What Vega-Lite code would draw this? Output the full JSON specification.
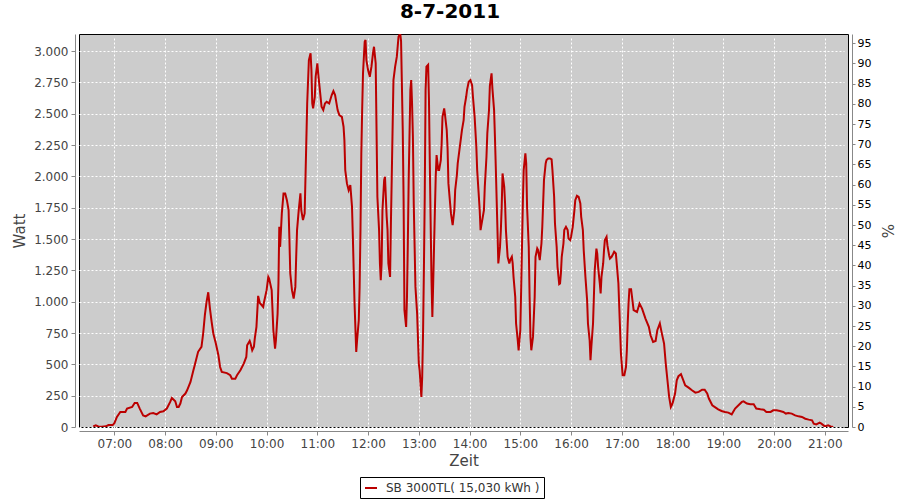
{
  "$schema": "https://vega.github.io/schema/vega-lite/v6.json",
  "width": 769,
  "height": 393,
  "autosize": {"type": "none"},
  "padding": {"left": 79, "top": 34, "right": 52, "bottom": 73},
  "background": "white",
  "title": {"text": "8-7-2011", "font": "DejaVu Sans", "fontSize": 20, "fontWeight": "bold", "color": "black", "anchor": "middle", "dx": -13.5, "offset": 12},
  "config": {
    "view": {"fill": "#CCCCCC", "stroke": "black", "strokeWidth": 1},
    "axis": {
      "offset": 4,
      "domainColor": "#888888",
      "tickColor": "#888888",
      "tickSize": 4,
      "labelFont": "DejaVu Sans",
      "labelFontSize": 12,
      "labelColor": "#444444",
      "titleFont": "DejaVu Sans",
      "titleFontSize": 15,
      "titleFontWeight": "normal",
      "titleColor": "#444444",
      "gridColor": "white",
      "gridDash": [2, 2],
      "gridOpacity": 1,
      "gridWidth": 1
    }
  },
  "layer": [
    {
      "data": {
        "values": [
          {"t":"2011-07-08T06:35","w":5},{"t":"2011-07-08T06:38","w":14},{"t":"2011-07-08T06:41","w":5},{"t":"2011-07-08T06:45","w":3},{"t":"2011-07-08T06:50","w":5},{"t":"2011-07-08T06:53","w":15},{"t":"2011-07-08T06:58","w":15},
          {"t":"2011-07-08T07:00","w":30},{"t":"2011-07-08T07:03","w":80},{"t":"2011-07-08T07:07","w":120},{"t":"2011-07-08T07:13","w":120},{"t":"2011-07-08T07:15","w":147},{"t":"2011-07-08T07:21","w":160},{"t":"2011-07-08T07:24","w":192},{"t":"2011-07-08T07:27","w":192},{"t":"2011-07-08T07:30","w":147},{"t":"2011-07-08T07:34","w":93},{"t":"2011-07-08T07:37","w":85},{"t":"2011-07-08T07:42","w":107},{"t":"2011-07-08T07:46","w":112},{"t":"2011-07-08T07:50","w":101},{"t":"2011-07-08T07:54","w":120},{"t":"2011-07-08T07:58","w":125},
          {"t":"2011-07-08T08:02","w":147},{"t":"2011-07-08T08:06","w":200},{"t":"2011-07-08T08:08","w":232},{"t":"2011-07-08T08:12","w":205},{"t":"2011-07-08T08:14","w":160},{"t":"2011-07-08T08:16","w":160},{"t":"2011-07-08T08:18","w":187},{"t":"2011-07-08T08:20","w":240},{"t":"2011-07-08T08:24","w":267},{"t":"2011-07-08T08:26","w":293},{"t":"2011-07-08T08:30","w":360},{"t":"2011-07-08T08:33","w":440},{"t":"2011-07-08T08:35","w":493},{"t":"2011-07-08T08:39","w":600},{"t":"2011-07-08T08:43","w":640},{"t":"2011-07-08T08:45","w":746},{"t":"2011-07-08T08:47","w":892},{"t":"2011-07-08T08:49","w":998},{"t":"2011-07-08T08:51","w":1075},{"t":"2011-07-08T08:53","w":945},{"t":"2011-07-08T08:55","w":838},{"t":"2011-07-08T08:57","w":746},
          {"t":"2011-07-08T09:00","w":666},{"t":"2011-07-08T09:03","w":573},{"t":"2011-07-08T09:05","w":479},{"t":"2011-07-08T09:07","w":440},{"t":"2011-07-08T09:13","w":430},{"t":"2011-07-08T09:17","w":413},{"t":"2011-07-08T09:19","w":386},{"t":"2011-07-08T09:23","w":386},{"t":"2011-07-08T09:25","w":413},{"t":"2011-07-08T09:29","w":453},{"t":"2011-07-08T09:33","w":506},{"t":"2011-07-08T09:36","w":559},{"t":"2011-07-08T09:37","w":652},{"t":"2011-07-08T09:40","w":687},{"t":"2011-07-08T09:41","w":666},{"t":"2011-07-08T09:43","w":612},{"t":"2011-07-08T09:45","w":640},{"t":"2011-07-08T09:46","w":706},{"t":"2011-07-08T09:48","w":799},{"t":"2011-07-08T09:50","w":1046},{"t":"2011-07-08T09:52","w":990},{"t":"2011-07-08T09:56","w":958},{"t":"2011-07-08T09:57","w":998},
          {"t":"2011-07-08T10:00","w":1092},{"t":"2011-07-08T10:02","w":1198},{"t":"2011-07-08T10:03","w":1185},{"t":"2011-07-08T10:06","w":1092},{"t":"2011-07-08T10:08","w":772},{"t":"2011-07-08T10:10","w":626},{"t":"2011-07-08T10:11","w":690},{"t":"2011-07-08T10:13","w":905},{"t":"2011-07-08T10:14","w":1145},{"t":"2011-07-08T10:15","w":1597},{"t":"2011-07-08T10:16","w":1437},{"t":"2011-07-08T10:18","w":1704},{"t":"2011-07-08T10:20","w":1864},{"t":"2011-07-08T10:22","w":1864},{"t":"2011-07-08T10:24","w":1810},{"t":"2011-07-08T10:26","w":1730},{"t":"2011-07-08T10:27","w":1491},{"t":"2011-07-08T10:28","w":1225},{"t":"2011-07-08T10:30","w":1092},{"t":"2011-07-08T10:32","w":1025},{"t":"2011-07-08T10:34","w":1118},{"t":"2011-07-08T10:35","w":1358},{"t":"2011-07-08T10:36","w":1571},{"t":"2011-07-08T10:38","w":1730},{"t":"2011-07-08T10:40","w":1864},{"t":"2011-07-08T10:41","w":1730},{"t":"2011-07-08T10:43","w":1651},{"t":"2011-07-08T10:45","w":1704},{"t":"2011-07-08T10:47","w":2289},{"t":"2011-07-08T10:48","w":2582},{"t":"2011-07-08T10:50","w":2928},{"t":"2011-07-08T10:52","w":2982},{"t":"2011-07-08T10:53","w":2848},{"t":"2011-07-08T10:54","w":2582},{"t":"2011-07-08T10:55","w":2542},{"t":"2011-07-08T10:57","w":2635},{"t":"2011-07-08T10:58","w":2795},
          {"t":"2011-07-08T11:00","w":2902},{"t":"2011-07-08T11:01","w":2822},{"t":"2011-07-08T11:03","w":2688},{"t":"2011-07-08T11:05","w":2555},{"t":"2011-07-08T11:07","w":2529},{"t":"2011-07-08T11:09","w":2582},{"t":"2011-07-08T11:11","w":2595},{"t":"2011-07-08T11:14","w":2582},{"t":"2011-07-08T11:17","w":2649},{"t":"2011-07-08T11:19","w":2681},{"t":"2011-07-08T11:21","w":2649},{"t":"2011-07-08T11:24","w":2529},{"t":"2011-07-08T11:26","w":2489},{"t":"2011-07-08T11:29","w":2475},{"t":"2011-07-08T11:31","w":2396},{"t":"2011-07-08T11:32","w":2289},{"t":"2011-07-08T11:33","w":2050},{"t":"2011-07-08T11:35","w":1944},{"t":"2011-07-08T11:37","w":1890},{"t":"2011-07-08T11:39","w":1930},{"t":"2011-07-08T11:41","w":1757},{"t":"2011-07-08T11:42","w":1517},{"t":"2011-07-08T11:43","w":1251},{"t":"2011-07-08T11:44","w":985},{"t":"2011-07-08T11:46","w":599},{"t":"2011-07-08T11:47","w":692},{"t":"2011-07-08T11:49","w":852},{"t":"2011-07-08T11:50","w":1118},{"t":"2011-07-08T11:51","w":1571},{"t":"2011-07-08T11:52","w":2183},{"t":"2011-07-08T11:53","w":2529},{"t":"2011-07-08T11:54","w":2822},{"t":"2011-07-08T11:56","w":3074},{"t":"2011-07-08T11:57","w":3088},{"t":"2011-07-08T11:58","w":2928},
          {"t":"2011-07-08T12:00","w":2848},{"t":"2011-07-08T12:02","w":2795},{"t":"2011-07-08T12:04","w":2875},{"t":"2011-07-08T12:06","w":2994},{"t":"2011-07-08T12:07","w":3034},{"t":"2011-07-08T12:09","w":2902},{"t":"2011-07-08T12:10","w":2369},{"t":"2011-07-08T12:11","w":1837},{"t":"2011-07-08T12:13","w":1571},{"t":"2011-07-08T12:14","w":1305},{"t":"2011-07-08T12:15","w":1171},{"t":"2011-07-08T12:16","w":1305},{"t":"2011-07-08T12:17","w":1730},{"t":"2011-07-08T12:19","w":1970},{"t":"2011-07-08T12:20","w":1997},{"t":"2011-07-08T12:22","w":1677},{"t":"2011-07-08T12:23","w":1571},{"t":"2011-07-08T12:24","w":1305},{"t":"2011-07-08T12:26","w":1198},{"t":"2011-07-08T12:27","w":1624},{"t":"2011-07-08T12:28","w":1997},{"t":"2011-07-08T12:30","w":2768},{"t":"2011-07-08T12:32","w":2875},{"t":"2011-07-08T12:34","w":2955},{"t":"2011-07-08T12:36","w":3114},{"t":"2011-07-08T12:38","w":3140},{"t":"2011-07-08T12:39","w":3080},{"t":"2011-07-08T12:41","w":2369},{"t":"2011-07-08T12:42","w":1810},{"t":"2011-07-08T12:43","w":932},{"t":"2011-07-08T12:45","w":799},{"t":"2011-07-08T12:46","w":1038},{"t":"2011-07-08T12:47","w":1464},{"t":"2011-07-08T12:48","w":1970},{"t":"2011-07-08T12:50","w":2688},{"t":"2011-07-08T12:51","w":2768},{"t":"2011-07-08T12:52","w":2582},{"t":"2011-07-08T12:53","w":2316},{"t":"2011-07-08T12:54","w":1784},{"t":"2011-07-08T12:56","w":1118},{"t":"2011-07-08T12:58","w":905},
          {"t":"2011-07-08T13:00","w":506},{"t":"2011-07-08T13:01","w":450},{"t":"2011-07-08T13:03","w":240},{"t":"2011-07-08T13:04","w":399},{"t":"2011-07-08T13:05","w":746},{"t":"2011-07-08T13:06","w":1251},{"t":"2011-07-08T13:07","w":1837},{"t":"2011-07-08T13:08","w":2688},{"t":"2011-07-08T13:09","w":2875},{"t":"2011-07-08T13:11","w":2890},{"t":"2011-07-08T13:12","w":2609},{"t":"2011-07-08T13:13","w":2103},{"t":"2011-07-08T13:14","w":1624},{"t":"2011-07-08T13:15","w":1171},{"t":"2011-07-08T13:16","w":878},{"t":"2011-07-08T13:17","w":1145},{"t":"2011-07-08T13:18","w":1437},{"t":"2011-07-08T13:19","w":1730},{"t":"2011-07-08T13:20","w":1997},{"t":"2011-07-08T13:21","w":2170},{"t":"2011-07-08T13:23","w":2050},{"t":"2011-07-08T13:24","w":2050},{"t":"2011-07-08T13:26","w":2130},{"t":"2011-07-08T13:27","w":2263},{"t":"2011-07-08T13:28","w":2475},{"t":"2011-07-08T13:30","w":2542},{"t":"2011-07-08T13:31","w":2489},{"t":"2011-07-08T13:33","w":2369},{"t":"2011-07-08T13:34","w":2223},{"t":"2011-07-08T13:35","w":1944},{"t":"2011-07-08T13:37","w":1784},{"t":"2011-07-08T13:38","w":1704},{"t":"2011-07-08T13:40","w":1611},{"t":"2011-07-08T13:42","w":1730},{"t":"2011-07-08T13:43","w":1890},{"t":"2011-07-08T13:45","w":2010},{"t":"2011-07-08T13:46","w":2103},{"t":"2011-07-08T13:48","w":2210},{"t":"2011-07-08T13:50","w":2316},{"t":"2011-07-08T13:51","w":2369},{"t":"2011-07-08T13:53","w":2449},{"t":"2011-07-08T13:54","w":2555},{"t":"2011-07-08T13:56","w":2635},{"t":"2011-07-08T13:57","w":2688},{"t":"2011-07-08T13:59","w":2755},
          {"t":"2011-07-08T14:01","w":2768},{"t":"2011-07-08T14:03","w":2728},{"t":"2011-07-08T14:04","w":2635},{"t":"2011-07-08T14:06","w":2475},{"t":"2011-07-08T14:08","w":2236},{"t":"2011-07-08T14:09","w":2050},{"t":"2011-07-08T14:11","w":1837},{"t":"2011-07-08T14:12","w":1730},{"t":"2011-07-08T14:13","w":1571},{"t":"2011-07-08T14:15","w":1651},{"t":"2011-07-08T14:17","w":1730},{"t":"2011-07-08T14:18","w":1917},{"t":"2011-07-08T14:20","w":2157},{"t":"2011-07-08T14:21","w":2343},{"t":"2011-07-08T14:23","w":2529},{"t":"2011-07-08T14:24","w":2720},{"t":"2011-07-08T14:26","w":2822},{"t":"2011-07-08T14:27","w":2702},{"t":"2011-07-08T14:29","w":2529},{"t":"2011-07-08T14:30","w":2316},{"t":"2011-07-08T14:31","w":2076},{"t":"2011-07-08T14:33","w":1571},{"t":"2011-07-08T14:34","w":1305},{"t":"2011-07-08T14:36","w":1437},{"t":"2011-07-08T14:37","w":1571},{"t":"2011-07-08T14:38","w":1757},{"t":"2011-07-08T14:39","w":2023},{"t":"2011-07-08T14:41","w":1917},{"t":"2011-07-08T14:42","w":1784},{"t":"2011-07-08T14:43","w":1571},{"t":"2011-07-08T14:45","w":1358},{"t":"2011-07-08T14:47","w":1305},{"t":"2011-07-08T14:48","w":1331},{"t":"2011-07-08T14:50","w":1358},{"t":"2011-07-08T14:51","w":1305},{"t":"2011-07-08T14:52","w":1198},{"t":"2011-07-08T14:54","w":1038},{"t":"2011-07-08T14:55","w":826},{"t":"2011-07-08T14:57","w":692},{"t":"2011-07-08T14:58","w":612},
          {"t":"2011-07-08T15:00","w":772},{"t":"2011-07-08T15:01","w":1092},{"t":"2011-07-08T15:02","w":1437},{"t":"2011-07-08T15:03","w":1784},{"t":"2011-07-08T15:04","w":2050},{"t":"2011-07-08T15:06","w":2183},{"t":"2011-07-08T15:07","w":2103},{"t":"2011-07-08T15:08","w":1757},{"t":"2011-07-08T15:10","w":1437},{"t":"2011-07-08T15:11","w":1038},{"t":"2011-07-08T15:12","w":719},{"t":"2011-07-08T15:13","w":612},{"t":"2011-07-08T15:15","w":719},{"t":"2011-07-08T15:17","w":1038},{"t":"2011-07-08T15:18","w":1358},{"t":"2011-07-08T15:20","w":1424},{"t":"2011-07-08T15:21","w":1411},{"t":"2011-07-08T15:23","w":1331},{"t":"2011-07-08T15:25","w":1464},{"t":"2011-07-08T15:26","w":1597},{"t":"2011-07-08T15:27","w":1784},{"t":"2011-07-08T15:28","w":1970},{"t":"2011-07-08T15:30","w":2103},{"t":"2011-07-08T15:31","w":2130},{"t":"2011-07-08T15:33","w":2143},{"t":"2011-07-08T15:35","w":2143},{"t":"2011-07-08T15:37","w":2136},{"t":"2011-07-08T15:38","w":2050},{"t":"2011-07-08T15:40","w":1837},{"t":"2011-07-08T15:41","w":1624},{"t":"2011-07-08T15:43","w":1437},{"t":"2011-07-08T15:44","w":1278},{"t":"2011-07-08T15:46","w":1140},{"t":"2011-07-08T15:47","w":1145},{"t":"2011-07-08T15:48","w":1225},{"t":"2011-07-08T15:49","w":1358},{"t":"2011-07-08T15:51","w":1464},{"t":"2011-07-08T15:52","w":1571},{"t":"2011-07-08T15:54","w":1597},{"t":"2011-07-08T15:56","w":1571},{"t":"2011-07-08T15:57","w":1504},{"t":"2011-07-08T15:59","w":1491},
          {"t":"2011-07-08T16:00","w":1517},{"t":"2011-07-08T16:02","w":1597},{"t":"2011-07-08T16:04","w":1730},{"t":"2011-07-08T16:05","w":1810},{"t":"2011-07-08T16:07","w":1845},{"t":"2011-07-08T16:09","w":1837},{"t":"2011-07-08T16:11","w":1784},{"t":"2011-07-08T16:12","w":1677},{"t":"2011-07-08T16:14","w":1571},{"t":"2011-07-08T16:15","w":1411},{"t":"2011-07-08T16:17","w":1198},{"t":"2011-07-08T16:19","w":1012},{"t":"2011-07-08T16:20","w":826},{"t":"2011-07-08T16:22","w":692},{"t":"2011-07-08T16:23","w":533},{"t":"2011-07-08T16:24","w":639},{"t":"2011-07-08T16:26","w":826},{"t":"2011-07-08T16:27","w":1038},{"t":"2011-07-08T16:28","w":1251},{"t":"2011-07-08T16:30","w":1424},{"t":"2011-07-08T16:31","w":1384},{"t":"2011-07-08T16:32","w":1278},{"t":"2011-07-08T16:34","w":1145},{"t":"2011-07-08T16:35","w":1065},{"t":"2011-07-08T16:36","w":1198},{"t":"2011-07-08T16:38","w":1305},{"t":"2011-07-08T16:39","w":1411},{"t":"2011-07-08T16:40","w":1491},{"t":"2011-07-08T16:42","w":1517},{"t":"2011-07-08T16:43","w":1451},{"t":"2011-07-08T16:45","w":1371},{"t":"2011-07-08T16:46","w":1344},{"t":"2011-07-08T16:48","w":1358},{"t":"2011-07-08T16:50","w":1384},{"t":"2011-07-08T16:51","w":1398},{"t":"2011-07-08T16:53","w":1384},{"t":"2011-07-08T16:54","w":1305},{"t":"2011-07-08T16:56","w":1145},{"t":"2011-07-08T16:57","w":958},{"t":"2011-07-08T16:58","w":772},{"t":"2011-07-08T16:59","w":586},
          {"t":"2011-07-08T17:01","w":413},{"t":"2011-07-08T17:03","w":413},{"t":"2011-07-08T17:05","w":479},{"t":"2011-07-08T17:06","w":612},{"t":"2011-07-08T17:07","w":826},{"t":"2011-07-08T17:08","w":985},{"t":"2011-07-08T17:09","w":1100},{"t":"2011-07-08T17:11","w":1100},{"t":"2011-07-08T17:14","w":932},{"t":"2011-07-08T17:18","w":918},{"t":"2011-07-08T17:21","w":985},{"t":"2011-07-08T17:24","w":945},{"t":"2011-07-08T17:28","w":865},{"t":"2011-07-08T17:32","w":799},{"t":"2011-07-08T17:34","w":732},{"t":"2011-07-08T17:37","w":679},{"t":"2011-07-08T17:40","w":687},{"t":"2011-07-08T17:42","w":772},{"t":"2011-07-08T17:45","w":826},{"t":"2011-07-08T17:47","w":759},{"t":"2011-07-08T17:50","w":666},{"t":"2011-07-08T17:52","w":506},{"t":"2011-07-08T17:54","w":373},{"t":"2011-07-08T17:56","w":240},{"t":"2011-07-08T17:58","w":160},
          {"t":"2011-07-08T18:00","w":187},{"t":"2011-07-08T18:03","w":267},{"t":"2011-07-08T18:05","w":373},{"t":"2011-07-08T18:07","w":405},{"t":"2011-07-08T18:10","w":421},{"t":"2011-07-08T18:12","w":386},{"t":"2011-07-08T18:15","w":333},{"t":"2011-07-08T18:19","w":314},{"t":"2011-07-08T18:23","w":293},{"t":"2011-07-08T18:27","w":274},{"t":"2011-07-08T18:31","w":280},{"t":"2011-07-08T18:35","w":298},{"t":"2011-07-08T18:38","w":298},{"t":"2011-07-08T18:41","w":267},{"t":"2011-07-08T18:43","w":227},{"t":"2011-07-08T18:47","w":173},{"t":"2011-07-08T18:51","w":155},{"t":"2011-07-08T18:54","w":141},{"t":"2011-07-08T18:58","w":128},
          {"t":"2011-07-08T19:02","w":120},{"t":"2011-07-08T19:06","w":115},{"t":"2011-07-08T19:10","w":101},{"t":"2011-07-08T19:14","w":147},{"t":"2011-07-08T19:18","w":173},{"t":"2011-07-08T19:22","w":200},{"t":"2011-07-08T19:24","w":205},{"t":"2011-07-08T19:28","w":187},{"t":"2011-07-08T19:32","w":181},{"t":"2011-07-08T19:36","w":181},{"t":"2011-07-08T19:39","w":147},{"t":"2011-07-08T19:44","w":141},{"t":"2011-07-08T19:48","w":138},{"t":"2011-07-08T19:51","w":120},{"t":"2011-07-08T19:56","w":120},{"t":"2011-07-08T19:59","w":133},
          {"t":"2011-07-08T20:03","w":133},{"t":"2011-07-08T20:07","w":128},{"t":"2011-07-08T20:11","w":120},{"t":"2011-07-08T20:14","w":107},{"t":"2011-07-08T20:17","w":112},{"t":"2011-07-08T20:21","w":107},{"t":"2011-07-08T20:25","w":93},{"t":"2011-07-08T20:29","w":85},{"t":"2011-07-08T20:33","w":80},{"t":"2011-07-08T20:37","w":66},{"t":"2011-07-08T20:41","w":59},{"t":"2011-07-08T20:45","w":53},{"t":"2011-07-08T20:47","w":27},{"t":"2011-07-08T20:50","w":21},{"t":"2011-07-08T20:54","w":35},{"t":"2011-07-08T20:56","w":27},
          {"t":"2011-07-08T21:00","w":5},{"t":"2011-07-08T21:04","w":13},{"t":"2011-07-08T21:07","w":5},{"t":"2011-07-08T21:10","w":0}
        ]
      },
      "mark": {"type": "line", "strokeWidth": 2, "clip": true},
      "encoding": {
        "x": {
          "field": "t", "type": "temporal",
          "scale": {"domain": [{"year": 2011, "month": 7, "date": 8, "hours": 6, "minutes": 18, "seconds": 10}, {"year": 2011, "month": 7, "date": 8, "hours": 21, "minutes": 27, "seconds": 30}], "nice": false},
          "axis": {"title": "Zeit", "format": "%H:%M", "values": [
            {"year": 2011, "month": 7, "date": 8, "hours": 7}, {"year": 2011, "month": 7, "date": 8, "hours": 8}, {"year": 2011, "month": 7, "date": 8, "hours": 9}, {"year": 2011, "month": 7, "date": 8, "hours": 10}, {"year": 2011, "month": 7, "date": 8, "hours": 11}, {"year": 2011, "month": 7, "date": 8, "hours": 12}, {"year": 2011, "month": 7, "date": 8, "hours": 13}, {"year": 2011, "month": 7, "date": 8, "hours": 14}, {"year": 2011, "month": 7, "date": 8, "hours": 15}, {"year": 2011, "month": 7, "date": 8, "hours": 16}, {"year": 2011, "month": 7, "date": 8, "hours": 17}, {"year": 2011, "month": 7, "date": 8, "hours": 18}, {"year": 2011, "month": 7, "date": 8, "hours": 19}, {"year": 2011, "month": 7, "date": 8, "hours": 20}, {"year": 2011, "month": 7, "date": 8, "hours": 21}
          ], "grid": true, "labelPadding": 3, "titlePadding": 4, "labelFlush": false, "labelOverlap": false}
        },
        "y": {
          "field": "w", "type": "quantitative",
          "scale": {"domain": [0, 3136], "nice": false},
          "axis": {"title": "Watt", "values": [0,250,500,750,1000,1250,1500,1750,2000,2250,2500,2750,3000], "labelExpr": "replace(format(datum.value, ','), ',', '.')", "grid": true, "labelPadding": 3, "titlePadding": 6}
        },
        "color": {
          "datum": "SB 3000TL( 15,030 kWh )",
          "type": "nominal",
          "scale": {"range": ["#BB0000"]},
          "legend": {
            "title": null, "orient": "none", "legendX": 281, "legendY": 443,
            "strokeColor": "black", "padding": 4, "fillColor": "white",
            "symbolType": "stroke", "symbolStrokeWidth": 2, "symbolSize": 144,
            "labelFont": "DejaVu Sans", "labelFontSize": 12, "labelColor": "#333333", "labelOffset": 8
          }
        }
      }
    },
    {
      "data": {"values": [{"pct": 0}, {"pct": 95}]},
      "mark": {"type": "point", "opacity": 0},
      "encoding": {
        "y": {
          "field": "pct", "type": "quantitative",
          "scale": {"domain": [0, 97.3], "nice": false},
          "axis": {"orient": "right", "title": "%", "values": [0,5,10,15,20,25,30,35,40,45,50,55,60,65,70,75,80,85,90,95], "grid": false, "labelFontSize": 11, "labelColor": "black", "labelPadding": 2, "tickSize": 3, "titlePadding": 8}
        }
      }
    }
  ],
  "resolve": {"scale": {"y": "independent"}}
}
